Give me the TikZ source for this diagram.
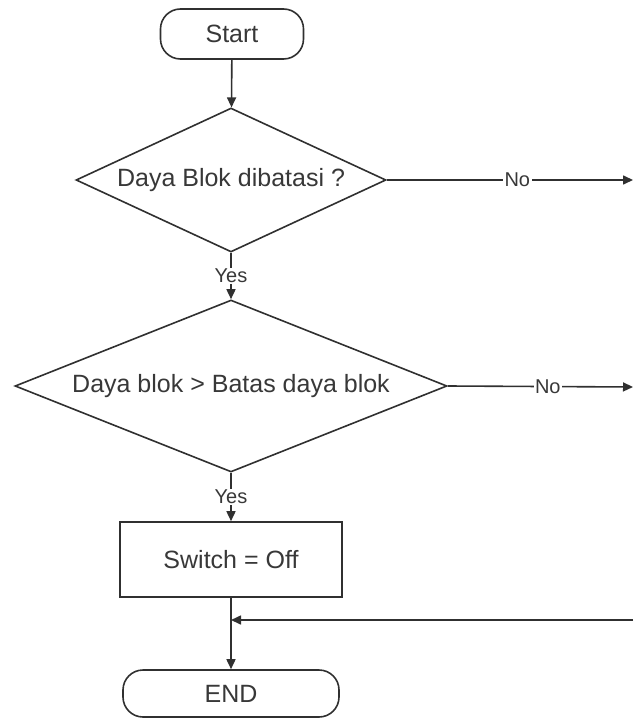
\documentclass[tikz,border=0pt]{standalone}
\usepackage{fontspec}
\setmainfont{Liberation Sans}
\usetikzlibrary{shapes.geometric,arrows.meta}
\definecolor{ink}{HTML}{303030}
\definecolor{txt}{HTML}{383838}
\tikzset{
  line/.style={draw=ink, line width=1.6pt},
  arr/.style={line, -{Triangle[length=10pt,width=9pt]}},
  terminal/.style={line, rounded corners=20pt, inner sep=0pt, text=txt, font=\fontsize{25}{30}\selectfont},
  procbox/.style={line, inner sep=0pt, text=txt, font=\fontsize{25}{30}\selectfont},
  decision/.style={line, diamond, inner sep=0pt, text=txt, font=\fontsize{25}{30}\selectfont},
  lab/.style={fill=white, inner sep=1.5pt, text=txt, font=\fontsize{20}{24}\selectfont},
}
\begin{document}
\begin{tikzpicture}[x=1pt,y=-1pt]
\useasboundingbox (0,0) rectangle (633,719);
\node[terminal, minimum width=143pt, minimum height=50pt] (start) at (232,34) {Start};
\node[decision, aspect=2.15, minimum width=310pt, minimum height=144pt] (d1) at (231,180) {Daya Blok dibatasi ?};
\node[decision, aspect=2.5, minimum width=432pt, minimum height=172pt] (d2) at (231,386) {Daya blok > Batas daya blok};
\node[procbox, minimum width=222pt, minimum height=75pt] (sw) at (231,559.5) {Switch = Off};
\node[terminal, minimum width=216pt, minimum height=47pt] (end) at (231,693.5) {END};
\coordinate (o1) at (633,180);
\coordinate (o2) at (633,387);
\coordinate (r) at (633,620);
\draw[arr] (start) -- (d1);
\draw[arr] (d1.south) -- (d2.north) node[lab, midway] {Yes};
\draw[arr] (d2.south) -- (sw.north) node[lab, midway] {Yes};
\draw[arr] (d1.east) -- (o1) node[lab, pos=0.53] {No};
\draw[arr] (d2.east) -- (o2) node[lab, pos=0.54] {No};
\draw[arr] (sw.south) -- (end.north);
\draw[arr] (r) -- (sw.south |- r);
\end{tikzpicture}
\end{document}
